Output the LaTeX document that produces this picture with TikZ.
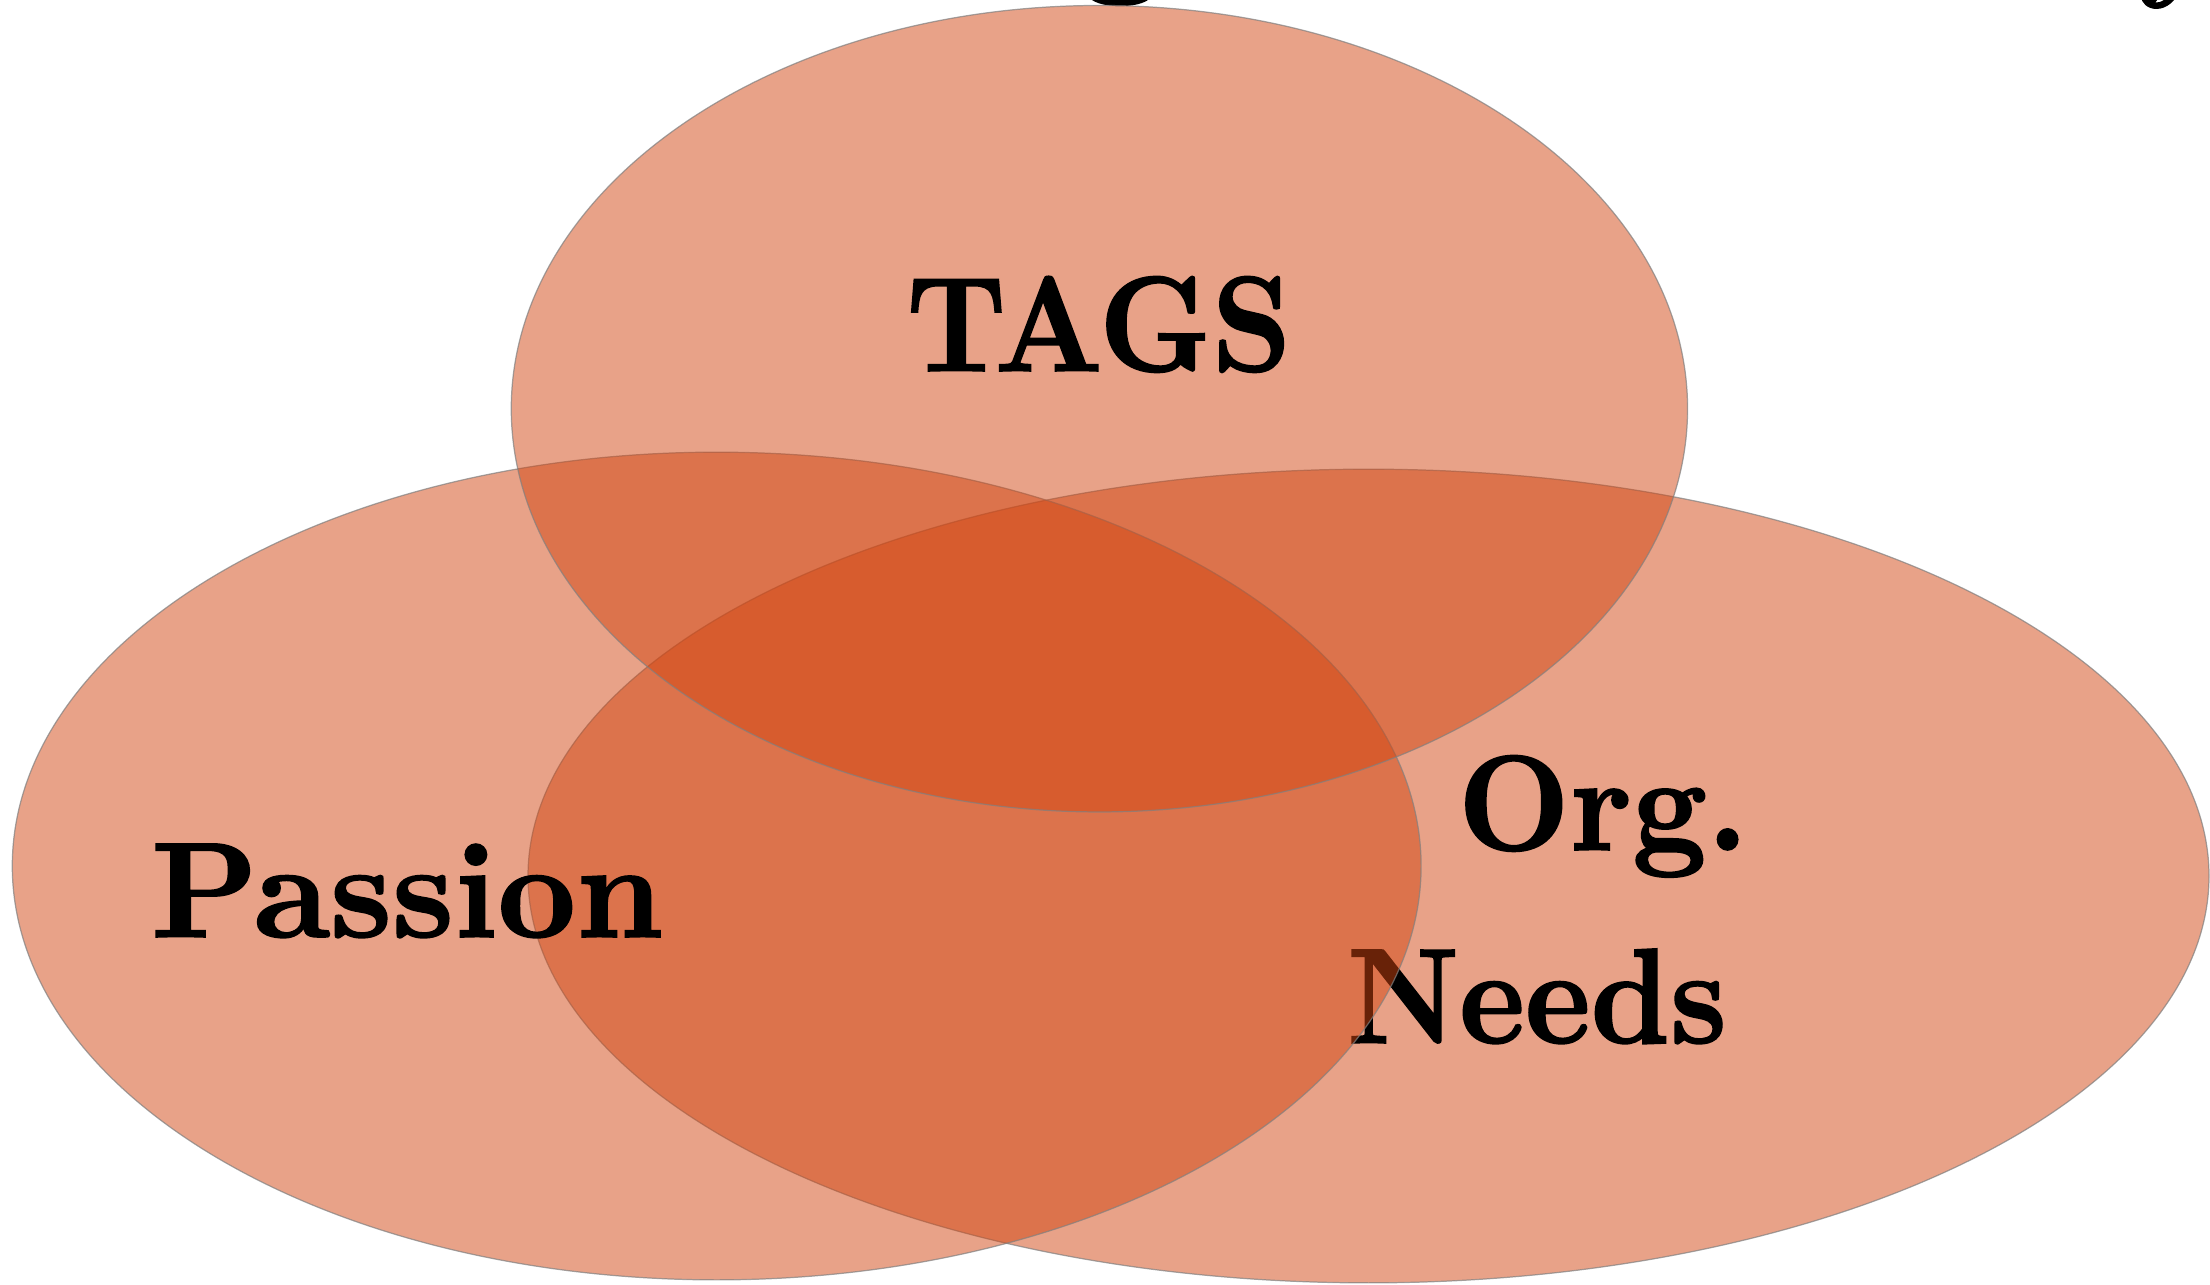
\documentclass[tikz,border=0pt]{standalone}
\usepackage{graphicx}
\usepackage{fontspec}
\newfontfamily\heavyfont{lmroman10-bold.otf}[FakeBold=1.2]
\definecolor{venn}{RGB}{209,69,17}
\tikzset{
  vennset/.style={fill=venn, fill opacity=0.5, draw=gray, draw opacity=0.7, line width=0.35pt},
  lbl/.style={anchor=base, inner sep=0pt, font=\heavyfont\fontsize{38.6}{46}\selectfont}
}
\begin{document}
\begin{tikzpicture}[x=0.01cm, y=-0.01cm]
\useasboundingbox (0,0) rectangle (2210,1284);
\clip (0,0) rectangle (2210,1284);
% title fragments (cut off at top)
\node[lbl] (tg) at (1120,-22) {g};
\node[lbl] (ty) at (2180,-19) {y};
% Org. Needs
\path[vennset] (1368.5,876) ellipse [x radius=8.40cm, y radius=4.066cm];
\node[lbl] (org) at (1603,850) {\scalebox{0.96}[1]{Org.}};
\node[lbl] (needs) at (1537,1043) {\scalebox{0.918}[1]{Needs}};
% Passion
\path[vennset] (716.7,866) ellipse [x radius=7.04cm, y radius=4.136cm];
\node[lbl] (passion) at (407,937) {\scalebox{1.005}[1]{Passion}};
% TAGS
\path[vennset] (1099.4,408.7) ellipse [x radius=5.878cm, y radius=4.03cm];
\node[lbl] (tags) at (1099,371) {\scalebox{0.92}[1]{TAGS}};
\end{tikzpicture}
\end{document}
